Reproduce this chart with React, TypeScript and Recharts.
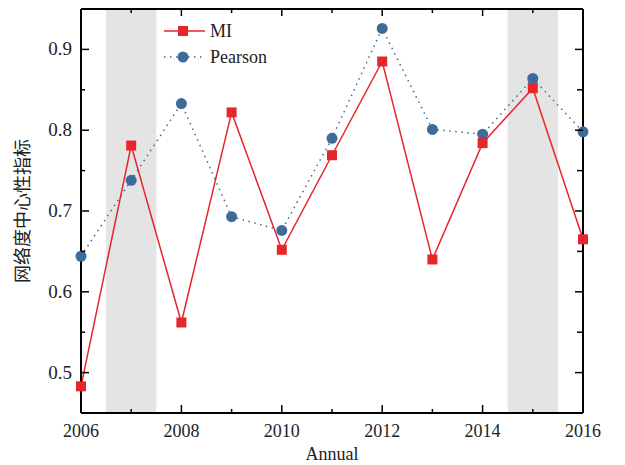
import React from 'react';
import { LineChart, Line, XAxis, YAxis, ReferenceArea } from 'recharts';

const years = [2006, 2007, 2008, 2009, 2010, 2011, 2012, 2013, 2014, 2015, 2016];
const miValues = [0.483, 0.781, 0.562, 0.822, 0.652, 0.769, 0.885, 0.64, 0.784, 0.852, 0.665];
const pearsonValues = [0.644, 0.738, 0.833, 0.693, 0.676, 0.79, 0.926, 0.801, 0.795, 0.864, 0.798];
const xTicks = [2006, 2007, 2008, 2009, 2010, 2011, 2012, 2013, 2014, 2015, 2016];
const yTicks = [0.5, 0.55, 0.6, 0.65, 0.7, 0.75, 0.8, 0.85, 0.9];
const shadedSpans = [[2006.5, 2007.5], [2014.5, 2015.5]];

const data = years.map((y, i) => ({ year: y, MI: miValues[i], Pearson: pearsonValues[i] }));

const RED = '#e5262b';
const BLUE = '#3d6b9a';
const FONT = '"Liberation Serif", "DejaVu Serif", serif';

const BottomTick = (props: any) => {
  const { x, y, payload } = props;
  const major = payload.value % 2 === 0;
  return (
    <g>
      <line x1={x} x2={x} y1={y} y2={y - (major ? 8 : 4)} stroke="#000" strokeWidth={1.5} />
      {major && (
        <text x={x} y={y + 24} textAnchor="middle" fontFamily={FONT} fontSize={18} fill="#222">
          {payload.value}
        </text>
      )}
    </g>
  );
};

const TopTick = (props: any) => {
  const { x, y, payload } = props;
  const major = payload.value % 2 === 0;
  return <line x1={x} x2={x} y1={y} y2={y + (major ? 7 : 4)} stroke="#000" strokeWidth={1.5} />;
};

const LeftTick = (props: any) => {
  const { x, y, payload } = props;
  const major = Math.abs(payload.value * 10 - Math.round(payload.value * 10)) < 1e-6;
  return (
    <g>
      <line x1={x} x2={x + (major ? 8 : 4)} y1={y} y2={y} stroke="#000" strokeWidth={1.5} />
      {major && (
        <text x={x - 9} y={y + 6} textAnchor="end" fontFamily={FONT} fontSize={19} fill="#222">
          {payload.value.toFixed(1)}
        </text>
      )}
    </g>
  );
};

const RightTick = (props: any) => {
  const { x, y, payload } = props;
  const major = Math.abs(payload.value * 10 - Math.round(payload.value * 10)) < 1e-6;
  return <line x1={x} x2={x - (major ? 8 : 6)} y1={y} y2={y} stroke="#000" strokeWidth={1.5} />;
};

const Square = (props: any) => {
  const { cx, cy } = props;
  if (cx == null || cy == null) return null;
  return <rect x={cx - 5} y={cy - 5} width={10} height={10} fill={RED} />;
};

const Circle = (props: any) => {
  const { cx, cy } = props;
  if (cx == null || cy == null) return null;
  return <circle cx={cx} cy={cy} r={5.5} fill={BLUE} />;
};

const LegendBox = () => (
  <svg width={140} height={50} style={{ position: 'absolute', left: 160, top: 19 }}>
    <line x1={4} x2={45} y1={12} y2={12} stroke={RED} strokeWidth={1.5} />
    <rect x={18} y={7} width={10} height={10} fill={RED} />
    <text x={50} y={18} fontFamily={FONT} fontSize={18} fill="#222">MI</text>
    <line x1={4} x2={45} y1={38} y2={38} stroke={BLUE} strokeWidth={1.5} strokeDasharray="1.5 4.5" />
    <circle cx={23} cy={38} r={5.5} fill={BLUE} />
    <text x={50} y={44} fontFamily={FONT} fontSize={18} fill="#222">Pearson</text>
  </svg>
);

const YLabel = (props: any) => {
  const vb = props.viewBox;
  const cy = vb.y + vb.height / 2;
  return (
    <text
      x={29}
      y={cy}
      transform={`rotate(-90, 29, ${cy})`}
      textAnchor="middle"
      fontFamily='"Noto Sans CJK SC", sans-serif'
      fontSize={18}
      fill="#222"
    >
      网络度中心性指标
    </text>
  );
};

const XLabel = (props: any) => {
  const vb = props.viewBox;
  return (
    <text x={vb.x + vb.width / 2} y={460} textAnchor="middle" fontFamily={FONT} fontSize={18} fill="#222">
      Annual
    </text>
  );
};

export default function App() {
  return (
    <div style={{ position: 'absolute', left: 0, top: 0, width: 625, height: 465, background: '#fff' }}>
      <LineChart width={625} height={465} data={data} margin={{ top: 8, right: 41, left: 0, bottom: 0 }}>
        {shadedSpans.map(([a, b], i) => (
          <ReferenceArea key={i} x1={a} x2={b} fill="#e4e4e4" fillOpacity={1} stroke="none" ifOverflow="hidden" />
        ))}
        <XAxis
          dataKey="year"
          type="number"
          domain={[2006, 2016]}
          ticks={xTicks}
          interval={0}
          height={52}
          tickSize={0}
          tickMargin={0}
          axisLine={{ stroke: '#000', strokeWidth: 2 }}
          tickLine={false}
          tick={<BottomTick />}
          label={<XLabel />}
        />
        <XAxis
          xAxisId="top"
          orientation="top"
          dataKey="year"
          type="number"
          domain={[2006, 2016]}
          ticks={xTicks}
          interval={0}
          height={1}
          tickSize={0}
          tickMargin={0}
          axisLine={{ stroke: '#000', strokeWidth: 2 }}
          tickLine={false}
          tick={<TopTick />}
        />
        <YAxis
          type="number"
          domain={[0.45, 0.95]}
          ticks={yTicks}
          interval={0}
          width={81}
          tickSize={0}
          tickMargin={0}
          axisLine={{ stroke: '#000', strokeWidth: 2 }}
          tickLine={false}
          tick={<LeftTick />}
          label={<YLabel />}
        />
        <YAxis
          yAxisId="right"
          orientation="right"
          type="number"
          domain={[0.45, 0.95]}
          ticks={yTicks}
          interval={0}
          width={1}
          tickSize={0}
          tickMargin={0}
          axisLine={{ stroke: '#000', strokeWidth: 2 }}
          tickLine={false}
          tick={<RightTick />}
        />
        <Line
          xAxisId="top"
          yAxisId="right"
          dataKey="MI"
          stroke="none"
          dot={false}
          activeDot={false}
          legendType="none"
          isAnimationActive={false}
        />
        <Line
          dataKey="Pearson"
          stroke={BLUE}
          strokeWidth={1.5}
          strokeDasharray="1.5 4.5"
          dot={<Circle />}
          activeDot={false}
          isAnimationActive={false}
        />
        <Line
          dataKey="MI"
          stroke={RED}
          strokeWidth={1.5}
          dot={<Square />}
          activeDot={false}
          isAnimationActive={false}
        />
      </LineChart>
      <LegendBox />
    </div>
  );
}
